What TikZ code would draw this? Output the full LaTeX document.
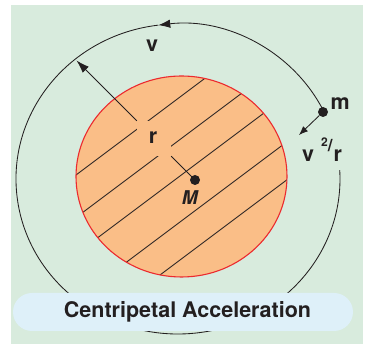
\documentclass[tikz,border=0pt]{standalone}
\usepackage{fontspec}
\setmainfont{TeX Gyre Heros}
\usetikzlibrary{arrows.meta}
\definecolor{bggreen}{HTML}{D8EBDD}
\definecolor{orangefill}{HTML}{FABE87}
\definecolor{redline}{HTML}{EC2A2E}
\definecolor{boxblue}{HTML}{DEF0F9}
\definecolor{txt}{HTML}{231F20}
\begin{document}
\begin{tikzpicture}[x=1pt,y=1pt,
  orbit/.style={draw=txt, line width=0.85pt},
  hatch/.style={draw=txt, line width=0.85pt},
  lbl/.style={font=\bfseries\fontsize{21.5}{22}\selectfont, text=txt, inner sep=0pt},
  dotnode/.style={circle, fill=txt, inner sep=0pt, minimum size=10pt},
  bigtip/.style={-{Latex[length=13pt,width=8.5pt]}},
  smalltip/.style={-{Latex[length=9pt,width=7pt]}}
]
\useasboundingbox (0,0) rectangle (365,344);
\fill[white] (0,0) rectangle (365,344);
\fill[bggreen] (11,0) rectangle (363,339);

% orbit
\coordinate (oc) at (178,165);
\draw[orbit, -{Latex[length=12pt,width=8.5pt]}] (oc) ++(25.8:162pt and 155pt)
  arc[start angle=25.8, end angle=97, x radius=162pt, y radius=155pt];
\draw[orbit] (oc) ++(97:162pt and 155pt)
  arc[start angle=97, end angle=363.3, x radius=162pt, y radius=155pt];

% planet
\fill[orangefill] (181.5,167.5) ellipse [x radius=105.5pt, y radius=100.5pt];
\begin{scope}
  \clip (181.5,167.5) ellipse [x radius=105.5pt, y radius=100.5pt];
  \foreach \c in {232,274.5,311,357,395}
    \draw[hatch] (50,{344-\c+0.75*50}) -- (310,{344-\c+0.75*310});
\end{scope}
\draw[redline, line width=1.1pt] (181.5,167.5) ellipse [x radius=105.5pt, y radius=100.5pt];

% radius
\node[dotnode] (Mdot) at (195,164) {};
\node[fill=orangefill, inner sep=0pt, minimum width=34pt, minimum height=35pt] (rnode) at (154,205.5) {};
\node[lbl] (rlab) at (153,206.5) {r};
\coordinate (rend) at (76.5,283.5);
\draw[hatch] (Mdot.center) -- (rnode.south east);
\draw[hatch, bigtip] (rnode.north west) -- (rend);
\node[lbl, font=\bfseries\itshape\fontsize{19}{19}\selectfont] (Mlab) at (189.7,146) {M};

% orbiting mass
\node[dotnode] (mdot) at (323,232) {};
\node[lbl] (mlab) at (340.3,240.2) {m};
\coordinate (fend) at (299,209);
\draw[hatch, smalltip] (mdot) -- (fend);
\node[lbl, anchor=base west] (acc) at (302,182.3)
  {v\hspace{7pt}\raisebox{15pt}{\fontsize{12}{12}\selectfont 2}\raisebox{10pt}{\fontsize{17}{17}\selectfont /}\hspace{1pt}r};

% velocity label
\node[lbl] (vlab) at (152,298.5) {v};

% title
\node[fill=boxblue, rounded corners=19pt, minimum width=340pt, minimum height=38pt, inner sep=0pt] (titlebox) at (183,32) {};
\node[lbl, font=\bfseries\fontsize{21.5}{22}\selectfont] (title) at (187.5,32.5) {Centripetal Acceleration};
\end{tikzpicture}
\end{document}
